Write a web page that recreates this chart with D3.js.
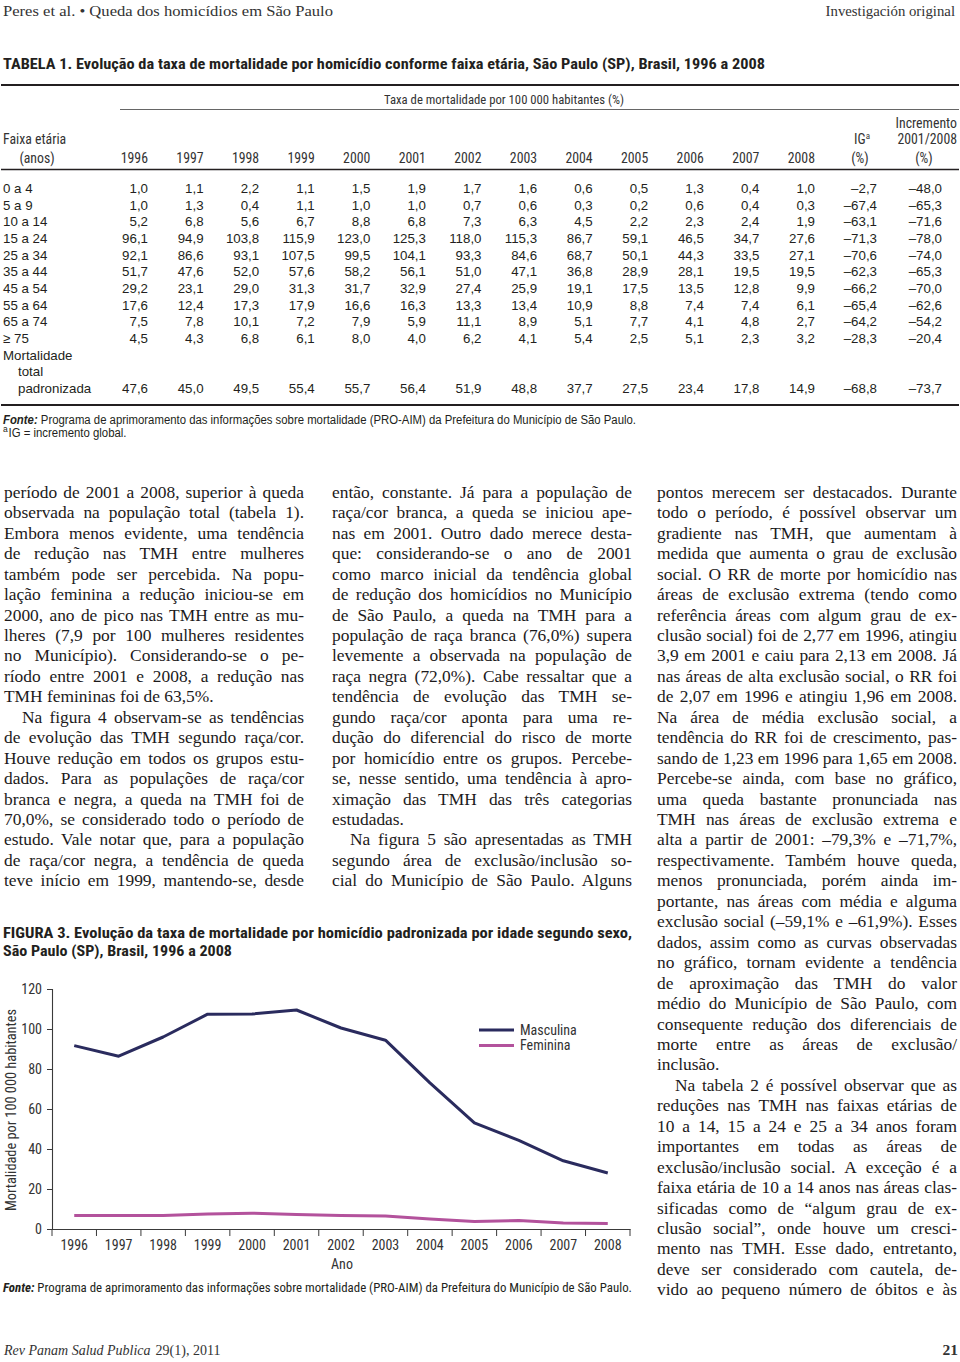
<!DOCTYPE html>
<html><head><meta charset="utf-8">
<script src="https://cdn.jsdelivr.net/npm/d3@7"></script>
<style>html,body{margin:0;padding:0;background:#fff;} svg{display:block}</style>
</head><body>
<script>
// ---------- Figure 3 data ----------
const years = [1996,1997,1998,1999,2000,2001,2002,2003,2004,2005,2006,2007,2008];
const masculina = [91.7,86.4,96.0,107.4,107.5,109.5,100.5,94.4,73.1,53.1,44.3,34.1,28.0];
const feminina = [6.7,6.7,6.7,7.5,7.9,7.2,6.8,6.5,5.0,3.8,4.2,3.0,2.7];
const yTicks = [0,20,40,60,80,100,120];
const seriesNames = ["Masculina","Feminina"];

// ---------- Table 1 data ----------
const ageGroups = ["0 a 4","5 a 9","10 a 14","15 a 24","25 a 34","35 a 44","45 a 54","55 a 64","65 a 74","≥ 75"];
const row0a4   = [1.0,1.1,2.2,1.1,1.5,1.9,1.7,1.6,0.6,0.5,1.3,0.4,1.0,-2.7,-48.0];
const row5a9   = [1.0,1.3,0.4,1.1,1.0,1.0,0.7,0.6,0.3,0.2,0.6,0.4,0.3,-67.4,-65.3];
const row10a14 = [5.2,6.8,5.6,6.7,8.8,6.8,7.3,6.3,4.5,2.2,2.3,2.4,1.9,-63.1,-71.6];
const row15a24 = [96.1,94.9,103.8,115.9,123.0,125.3,118.0,115.3,86.7,59.1,46.5,34.7,27.6,-71.3,-78.0];
const row25a34 = [92.1,86.6,93.1,107.5,99.5,104.1,93.3,84.6,68.7,50.1,44.3,33.5,27.1,-70.6,-74.0];
const row35a44 = [51.7,47.6,52.0,57.6,58.2,56.1,51.0,47.1,36.8,28.9,28.1,19.5,19.5,-62.3,-65.3];
const row45a54 = [29.2,23.1,29.0,31.3,31.7,32.9,27.4,25.9,19.1,17.5,13.5,12.8,9.9,-66.2,-70.0];
const row55a64 = [17.6,12.4,17.3,17.9,16.6,16.3,13.3,13.4,10.9,8.8,7.4,7.4,6.1,-65.4,-62.6];
const row65a74 = [7.5,7.8,10.1,7.2,7.9,5.9,11.1,8.9,5.1,7.7,4.1,4.8,2.7,-64.2,-54.2];
const row75plus= [4.5,4.3,6.8,6.1,8.0,4.0,6.2,4.1,5.4,2.5,5.1,2.3,3.2,-28.3,-20.4];
const rowTotal = [47.6,45.0,49.5,55.4,55.7,56.4,51.9,48.8,37.7,27.5,23.4,17.8,14.9,-68.8,-73.7];
const ageRows = [row0a4,row5a9,row10a14,row15a24,row25a34,row35a44,row45a54,row55a64,row65a74,row75plus];

// ---------- Body text ----------
const col1 = [
 {indent:false,end:true,lines:[
  "período de 2001 a 2008, superior à queda",
  "observada na população total (tabela 1).",
  "Embora menos evidente, uma tendência",
  "de redução nas TMH entre mulheres",
  "também pode ser percebida. Na popu-",
  "lação feminina a redução iniciou-se em",
  "2000, ano de pico nas TMH entre as mu-",
  "lheres (7,9 por 100 mulheres residentes",
  "no Município). Considerando-se o pe-",
  "ríodo entre 2001 e 2008, a redução nas",
  "TMH femininas foi de 63,5%."]},
 {indent:true,end:false,lines:[
  "Na figura 4 observam-se as tendências",
  "de evolução das TMH segundo raça/cor.",
  "Houve redução em todos os grupos estu-",
  "dados. Para as populações de raça/cor",
  "branca e negra, a queda na TMH foi de",
  "70,0%, se considerado todo o período de",
  "estudo. Vale notar que, para a população",
  "de raça/cor negra, a tendência de queda",
  "teve início em 1999, mantendo-se, desde"]}
];
const col2 = [
 {indent:false,end:true,lines:[
  "então, constante. Já para a população de",
  "raça/cor branca, a queda se iniciou ape-",
  "nas em 2001. Outro dado merece desta-",
  "que: considerando-se o ano de 2001",
  "como marco inicial da tendência global",
  "de redução dos homicídios no Município",
  "de São Paulo, a queda na TMH para a",
  "população de raça branca (76,0%) supera",
  "levemente a observada na população de",
  "raça negra (72,0%). Cabe ressaltar que a",
  "tendência de evolução das TMH se-",
  "gundo raça/cor aponta para uma re-",
  "dução do diferencial do risco de morte",
  "por homicídio entre os grupos. Percebe-",
  "se, nesse sentido, uma tendência à apro-",
  "ximação das TMH das três categorias",
  "estudadas."]},
 {indent:true,end:false,lines:[
  "Na figura 5 são apresentadas as TMH",
  "segundo área de exclusão/inclusão so-",
  "cial do Município de São Paulo. Alguns"]}
];
const col3 = [
 {indent:false,end:true,lines:[
  "pontos merecem ser destacados. Durante",
  "todo o período, é possível observar um",
  "gradiente nas TMH, que aumentam à",
  "medida que aumenta o grau de exclusão",
  "social. O RR de morte por homicídio nas",
  "áreas de exclusão extrema (tendo como",
  "referência áreas com algum grau de ex-",
  "clusão social) foi de 2,77 em 1996, atingiu",
  "3,9 em 2001 e caiu para 2,13 em 2008. Já",
  "nas áreas de alta exclusão social, o RR foi",
  "de 2,07 em 1996 e atingiu 1,96 em 2008.",
  "Na área de média exclusão social, a",
  "tendência do RR foi de crescimento, pas-",
  "sando de 1,23 em 1996 para 1,65 em 2008.",
  "Percebe-se ainda, com base no gráfico,",
  "uma queda bastante pronunciada nas",
  "TMH nas áreas de exclusão extrema e",
  "alta a partir de 2001: –79,3% e –71,7%,",
  "respectivamente. Também houve queda,",
  "menos pronunciada, porém ainda im-",
  "portante, nas áreas com média e alguma",
  "exclusão social (–59,1% e –61,9%). Esses",
  "dados, assim como as curvas observadas",
  "no gráfico, tornam evidente a tendência",
  "de aproximação das TMH do valor",
  "médio do Município de São Paulo, com",
  "consequente redução dos diferenciais de",
  "morte entre as áreas de exclusão/",
  "inclusão."]},
 {indent:true,end:false,lines:[
  "Na tabela 2 é possível observar que as",
  "reduções nas TMH nas faixas etárias de",
  "10 a 14, 15 a 24 e 25 a 34 anos foram",
  "importantes em todas as áreas de",
  "exclusão/inclusão social. A exceção é a",
  "faixa etária de 10 a 14 anos nas áreas clas-",
  "sificadas como de “algum grau de ex-",
  "clusão social”, onde houve um cresci-",
  "mento nas TMH. Esse dado, entretanto,",
  "deve ser considerado com cautela, de-",
  "vido ao pequeno número de óbitos e às"]}
];

// ---------- setup ----------
const W = 960, H = 1362;
const SANS = "'Liberation Sans Narrow','Arial Narrow','Roboto Condensed','DejaVu Sans Condensed','Liberation Sans',Arial,sans-serif";
const PLAIN = "'Liberation Sans',Arial,Helvetica,sans-serif";
const SERIF = "'Liberation Serif','Times New Roman',serif";
const INK = "#231f20";
const svg = d3.select("body").append("svg").attr("width", W).attr("height", H)
  .style("background", "#fff");

// detect whether the sans stack is already condensed
const probe = svg.append("text").style("font-family", SANS).style("font-size", "100px").text("abcdefghijklmnop 0123456789");
const probe2 = svg.append("text").style("font-family", PLAIN).style("font-size", "100px").text("abcdefghijklmnop 0123456789");
const ratio = probe.node().getComputedTextLength() / probe2.node().getComputedTextLength();
probe.remove(); probe2.remove();
const condense = ratio > 0.9 ? 0.84 : 1;

function addText(g, x, y, str, o = {}) {
  const fam = o.family || SANS;
  const t = g.append("text").attr("x", x).attr("y", y)
    .style("font-family", fam).style("font-size", (o.size || 13) + "px")
    .attr("fill", o.fill || INK).attr("text-anchor", o.anchor || "start");
  if (str !== null) t.text(str);
  if (o.weight) t.style("font-weight", o.weight);
  if (o.style) t.style("font-style", o.style);
  if (o.len) {
    t.attr("textLength", o.len).attr("lengthAdjust", "spacingAndGlyphs");
  } else if (fam === SANS && condense < 1 && str !== null) {
    const w = t.node().getComputedTextLength();
    t.attr("textLength", w * condense).attr("lengthAdjust", "spacingAndGlyphs");
  }
  return t;
}
const fmt = v => (v < 0 ? "–" : "") + d3.format(".1f")(Math.abs(v)).replace(".", ",");

// ---------- page header ----------
addText(svg, 3, 15.5, "Peres et al. • Queda dos homicídios em São Paulo", {family: SERIF, size: 15.5, len: 330, fill: "#333"});
addText(svg, 955, 15.5, "Investigación original", {family: SERIF, size: 14.8, anchor: "end", fill: "#333"});

// ---------- Table 1 ----------
const tb = svg.append("g");
addText(tb, 3, 69, "TABELA 1. Evolução da taxa de mortalidade por homicídio conforme faixa etária, São Paulo (SP), Brasil, 1996 a 2008", {size: 15, weight: "bold", len: 762});
tb.append("line").attr("x1", 1).attr("x2", 959).attr("y1", 85).attr("y2", 85).attr("stroke", INK).attr("stroke-width", 2.2);
addText(tb, 384, 104, "Taxa de mortalidade por 100 000 habitantes (%)", {size: 13.5, len: 240, fill: "#333"});
tb.append("line").attr("x1", 120).attr("x2", 959).attr("y1", 109.5).attr("y2", 109.5).attr("stroke", "#555").attr("stroke-width", 0.9);

const colX = d3.scaleLinear().domain([0, 12]).range([148, 815]);
const igX = 877, incX = 942;
const rowY = d3.scaleLinear().domain([0, 12]).range([188.3, 388.3]);
const HS = 13.8;

addText(tb, 957, 127.5, "Incremento", {size: HS, anchor: "end", fill: "#333"});
addText(tb, 3, 143.5, "Faixa etária", {size: HS, fill: "#333"});
addText(tb, 37, 163, "(anos)", {size: HS, anchor: "middle", fill: "#333"});
const ig = addText(tb, 870, 143.5, null, {size: HS, anchor: "end", fill: "#333"});
ig.append("tspan").text("IG");
ig.append("tspan").text("a").attr("dy", -5).style("font-size", "9px");
addText(tb, 957, 143.5, "2001/2008", {size: HS, anchor: "end", fill: "#333"});
addText(tb, 860, 163, "(%)", {size: HS, anchor: "middle", fill: "#333"});
addText(tb, 924, 163, "(%)", {size: HS, anchor: "middle", fill: "#333"});
years.forEach((yr, i) => addText(tb, colX(i), 163, String(yr), {size: HS, anchor: "end", fill: "#333"}));
tb.append("line").attr("x1", 1).attr("x2", 959).attr("y1", 169.5).attr("y2", 169.5).attr("stroke", INK).attr("stroke-width", 1.4);

const BS = 13.3;
function drawRow(label, values, ri, indent) {
  if (label !== null) addText(tb, indent ? 18 : 3, rowY(ri) + 4.7, label, {family: PLAIN, size: BS});
  values.forEach((v, j) => {
    const x = j < 13 ? colX(j) : (j === 13 ? igX : incX);
    addText(tb, x, rowY(ri) + 4.7, fmt(v), {family: PLAIN, size: BS, anchor: "end"});
  });
}
ageRows.forEach((r, i) => drawRow(ageGroups[i], r, i, false));
addText(tb, 3, rowY(10) + 4.7, "Mortalidade", {family: PLAIN, size: BS});
addText(tb, 18, rowY(11) + 4.7, "total", {family: PLAIN, size: BS});
drawRow("padronizada", rowTotal, 12, true);
tb.append("line").attr("x1", 1).attr("x2", 959).attr("y1", 405).attr("y2", 405).attr("stroke", INK).attr("stroke-width", 2.2);

const tf = addText(tb, 3, 423.5, null, {family: PLAIN, size: 12, len: 633});
tf.append("tspan").text("Fonte:").style("font-weight", "bold").style("font-style", "italic");
tf.append("tspan").text(" Programa de aprimoramento das informações sobre mortalidade (PRO-AIM) da Prefeitura do Município de São Paulo.");
addText(tb, 3, 432, "a", {family: PLAIN, size: 8.5});
addText(tb, 8.5, 436.5, "IG = incremento global.", {family: PLAIN, size: 12, len: 118});

// ---------- body text ----------
const bodyG = svg.append("g");
const colXs = [4, 332, 657], colW = 300, bodyTop = 492, lh = 20.45;
function drawColumn(paras, cx) {
  let li = 0;
  paras.forEach(p => {
    p.lines.forEach((ln, k) => {
      const ind = (p.indent && k === 0) ? 18 : 0;
      const t = addText(bodyG, cx + ind, bodyTop + li * lh + 5.8, ln, {family: SERIF, size: 17.4, fill: "#1c1a1b"});
      const justified = !(p.end && k === p.lines.length - 1);
      const w = t.node().getComputedTextLength();
      const target = colW - ind;
      const n = (ln.match(/ /g) || []).length;
      if (justified) {
        const ws = n ? (target - w) / n : 0;
        if (n === 0 || ws < -1.5) {
          t.attr("textLength", target).attr("lengthAdjust", "spacingAndGlyphs");
        } else {
          t.style("word-spacing", ws + "px");
        }
      } else if (w > target) {
        t.attr("textLength", target).attr("lengthAdjust", "spacingAndGlyphs");
      }
      li++;
    });
  });
}
drawColumn(col1, colXs[0]);
drawColumn(col2, colXs[1]);
drawColumn(col3, colXs[2]);

// ---------- Figure 3 ----------
const fg = svg.append("g");
addText(fg, 3, 938, "FIGURA 3. Evolução da taxa de mortalidade por homicídio padronizada por idade segundo sexo,", {size: 15, weight: "bold", len: 629});
addText(fg, 3, 956, "São Paulo (SP), Brasil, 1996 a 2008", {size: 15, weight: "bold", len: 229});

const x = d3.scaleBand().domain(years).range([52, 630]).padding(0);
const y = d3.scaleLinear().domain([0, 120]).range([1229, 989]);
const cxp = d => x(d) + x.bandwidth() / 2;
const AX = "#3a3a3a";

// y axis
const yAxis = fg.append("g").attr("transform", "translate(52,0)")
  .call(d3.axisLeft(y).tickValues(yTicks).tickSize(5).tickPadding(5).tickFormat(d3.format("d")));
yAxis.select(".domain").attr("stroke", AX).attr("stroke-width", 1.1);
yAxis.selectAll(".tick line").attr("stroke", AX);
yAxis.selectAll(".tick text").remove();
yTicks.forEach(v => addText(fg, 42, y(v) + 4.8, String(v), {size: 14, anchor: "end", fill: "#333"}));

// x axis
const xAxis = fg.append("g").attr("transform", "translate(0,1229)")
  .call(d3.axisBottom(x).tickSize(0).tickFormat(""));
xAxis.select(".domain").attr("stroke", AX).attr("stroke-width", 1.1);
xAxis.selectAll(".tick").remove();
const bounds = years.map(d => x(d)).concat([x(years[years.length - 1]) + x.bandwidth()]);
fg.selectAll(".xtick").data(bounds).enter().append("line")
  .attr("x1", d => d).attr("x2", d => d).attr("y1", 1229).attr("y2", 1236)
  .attr("stroke", AX).attr("stroke-width", 1);
years.forEach(yr => addText(fg, cxp(yr), 1250, String(yr), {size: 14, anchor: "middle", fill: "#333"}));
addText(fg, 342, 1268.5, "Ano", {size: 14, anchor: "middle", fill: "#333"});
addText(fg, 0, 0, "Mortalidade por 100 000 habitantes", {size: 14, anchor: "middle", fill: "#333", len: 202})
  .attr("transform", "translate(15.5,1110) rotate(-90)");

// lines
const colors = {Masculina: "#2a2b5e", Feminina: "#b3529c"};
const line = d3.line().x((d, i) => cxp(years[i])).y(d => y(d));
[["Masculina", masculina], ["Feminina", feminina]].forEach(([name, vals]) => {
  fg.append("path").datum(vals).attr("d", line).attr("fill", "none")
    .attr("stroke", colors[name]).attr("stroke-width", 3).attr("stroke-linejoin", "round");
});

// legend
seriesNames.forEach((name, i) => {
  const ly = 1030 + i * 15.5;
  fg.append("line").attr("x1", 479).attr("x2", 514).attr("y1", ly).attr("y2", ly)
    .attr("stroke", colors[name]).attr("stroke-width", 3);
  addText(fg, 520, ly + 4.8, name, {size: 14, fill: "#333"});
});

const cf = addText(fg, 3, 1291.5, null, {size: 12.5, len: 629});
cf.append("tspan").text("Fonte:").style("font-weight", "bold").style("font-style", "italic");
cf.append("tspan").text(" Programa de aprimoramento das informações sobre mortalidade (PRO-AIM) da Prefeitura do Município de São Paulo.");

// ---------- footer ----------
const jr = addText(svg, 4, 1355, "Rev Panam Salud Publica", {family: SERIF, size: 14, style: "italic", fill: "#333"});
const jrW = jr.node().getBBox().width;
addText(svg, 4 + jrW + 4, 1355, "29(1), 2011", {family: SERIF, size: 14, fill: "#333"});
addText(svg, 958, 1355, "21", {family: SERIF, size: 15.5, anchor: "end", weight: "bold", fill: "#333"});
</script>
</body></html>
